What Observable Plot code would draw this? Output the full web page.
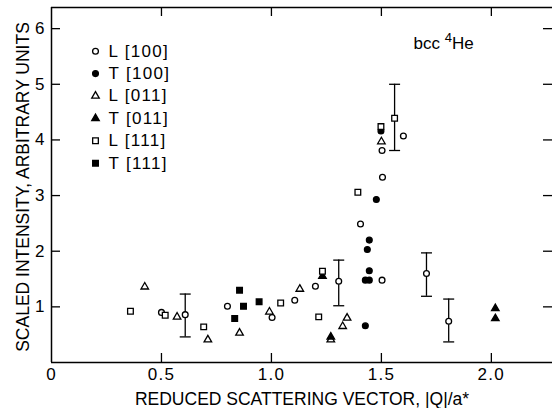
<!DOCTYPE html>
<html>
<head>
<meta charset="utf-8">
<script src="https://cdn.jsdelivr.net/npm/d3@7"></script>
<script src="https://cdn.jsdelivr.net/npm/@observablehq/plot@0.6"></script>
<style>
  html, body { margin: 0; padding: 0; background: #fff; }
  #chart svg { display: block; }
</style>
</head>
<body>
<div id="chart"></div>
<script>
// Scaled one-phonon intensities in bcc 4He versus reduced scattering vector.
// q = |Q|/a*, s = scaled intensity; lo/hi give the error bar where one was measured.
const L100 = [
  {q: 0.500, s: 0.90},
  {q: 0.608, s: 0.86, lo: 0.46, hi: 1.23},
  {q: 0.800, s: 1.01},
  {q: 1.003, s: 0.81},
  {q: 1.106, s: 1.12},
  {q: 1.200, s: 1.37},
  {q: 1.306, s: 1.46, lo: 1.02, hi: 1.84},
  {q: 1.405, s: 2.49},
  {q: 1.503, s: 1.48},
  {q: 1.505, s: 3.33},
  {q: 1.503, s: 3.81},
  {q: 1.600, s: 4.07},
  {q: 1.705, s: 1.60, lo: 1.19, hi: 1.97},
  {q: 1.806, s: 0.74, lo: 0.37, hi: 1.14}
];
const T100 = [
  {q: 1.427, s: 0.66},
  {q: 1.427, s: 1.48},
  {q: 1.445, s: 1.48},
  {q: 1.445, s: 1.65},
  {q: 1.436, s: 2.03},
  {q: 1.445, s: 2.20},
  {q: 1.477, s: 2.93},
  {q: 1.498, s: 4.16}
];
const L011 = [
  {q: 0.424, s: 1.36},
  {q: 0.571, s: 0.82},
  {q: 0.711, s: 0.41},
  {q: 0.855, s: 0.53},
  {q: 0.991, s: 0.91},
  {q: 1.129, s: 1.32},
  {q: 1.270, s: 0.41},
  {q: 1.324, s: 0.65},
  {q: 1.344, s: 0.80},
  {q: 1.500, s: 3.97}
];
const T011 = [
  {q: 1.232, s: 1.55},
  {q: 1.270, s: 0.46},
  {q: 2.018, s: 0.97},
  {q: 2.018, s: 0.79}
];
const L111 = [
  {q: 0.359, s: 0.92},
  {q: 0.517, s: 0.85},
  {q: 0.692, s: 0.64},
  {q: 1.042, s: 1.07},
  {q: 1.215, s: 0.82},
  {q: 1.232, s: 1.64},
  {q: 1.393, s: 3.06},
  {q: 1.498, s: 4.24},
  {q: 1.560, s: 4.39, lo: 3.81, hi: 5.00}
];
const T111 = [
  {q: 0.833, s: 0.79},
  {q: 0.855, s: 1.30},
  {q: 0.873, s: 1.01},
  {q: 0.944, s: 1.09}
];

const xTicks = [0, 0.5, 1.0, 1.5, 2.0];
const xTickLabels = ["0", "0.5", "1.0", "1.5", "2.0"];
const yTicks = [1, 2, 3, 4, 5, 6];
const yTickLabels = ["1", "2", "3", "4", "5", "6"];
const xTitle = "REDUCED SCATTERING VECTOR, |Q|/a*";
const yTitle = "SCALED INTENSITY, ARBITRARY UNITS";
const sampleLabel = "bcc 4He";

// Layout
const W = 552, H = 408;
const margin = {top: 7, right: 0, bottom: 46, left: 51};
const innerW = W - margin.left - margin.right;
const innerH = H - margin.top - margin.bottom;
const xDomain = [0, 2.278];
const yDomain = [0, 6.38];
const tickLen = 9;
const font = "'Liberation Sans', Arial, Helvetica, sans-serif";

const series = [
  {label: "L [100]", data: L100, symbol: "circle",   filled: false, r: 2.9},
  {label: "T [100]", data: T100, symbol: "circle",   filled: true,  r: 2.9},
  {label: "L [011]", data: L011, symbol: "triangle", filled: false, r: 2.8},
  {label: "T [011]", data: T011, symbol: "triangle", filled: true,  r: 2.8},
  {label: "L [111]", data: L111, symbol: "square",   filled: false, r: 3.2},
  {label: "T [111]", data: T111, symbol: "square",   filled: true,  r: 3.2}
];

// horizontal cap drawn at each end of an error bar
const capSymbol = {draw(ctx) { ctx.moveTo(-5.5, 0); ctx.lineTo(5.5, 0); }};

const withErrors = series.flatMap(s => s.data).filter(d => d.lo != null);

const marks = [
  // frame: left, bottom and top edges
  Plot.ruleX([xDomain[0]], {stroke: "black", strokeWidth: 1.5}),
  Plot.ruleY([yDomain[0]], {stroke: "black", strokeWidth: 1.5}),
  Plot.ruleY([yDomain[1]], {stroke: "black", strokeWidth: 1.5}),
  // inward ticks on all four sides
  Plot.ruleX(xTicks.slice(1), {stroke: "black", strokeWidth: 1.3, insetTop: innerH - tickLen}),
  Plot.ruleX(xTicks.slice(1), {stroke: "black", strokeWidth: 1.3, insetBottom: innerH - tickLen}),
  Plot.ruleY(yTicks, {stroke: "black", strokeWidth: 1.3, insetRight: innerW - tickLen}),
  Plot.ruleY(yTicks, {stroke: "black", strokeWidth: 1.3, insetLeft: innerW - tickLen}),
  Plot.axisX({ticks: xTicks, tickSize: 0, tickPadding: 5, label: null,
    tickFormat: (d, i) => xTickLabels[i], fontSize: 17}),
  Plot.axisY({ticks: yTicks, tickSize: 0, tickPadding: 7, label: null,
    tickFormat: (d, i) => yTickLabels[i], fontSize: 17}),
  // error bars
  Plot.ruleX(withErrors, {x: "q", y1: "lo", y2: "hi", stroke: "black", strokeWidth: 1.3}),
  Plot.dot(withErrors, {x: "q", y: "lo", symbol: capSymbol, stroke: "black", strokeWidth: 1.3}),
  Plot.dot(withErrors, {x: "q", y: "hi", symbol: capSymbol, stroke: "black", strokeWidth: 1.3})
];

// data points and the legend entries for each series
series.forEach((s, i) => {
  const style = {symbol: s.symbol, r: s.r, stroke: "black", strokeWidth: 1.3,
    fill: s.filled ? "black" : "white"};
  marks.push(Plot.dot(s.data, {x: "q", y: "s", ...style}));
  const rowDy = 43.7 + 22.4 * i;
  marks.push(Plot.dot([s.label], {frameAnchor: "top-left", dx: 44, dy: rowDy, ...style}));
  marks.push(Plot.text([s.label], {frameAnchor: "top-left", dx: 57, dy: rowDy,
    text: d => d, textAnchor: "start", lineAnchor: "middle", fontSize: 17}));
});

// axis titles and sample label
marks.push(
  Plot.text([xTitle], {frameAnchor: "bottom", dy: 36.5, text: d => d,
    textAnchor: "middle", lineAnchor: "middle", fontSize: 17.5}),
  Plot.text([yTitle], {frameAnchor: "left", dx: -28.6, dy: 2, rotate: -90, text: d => d,
    textAnchor: "middle", lineAnchor: "middle", fontSize: 17.5}),
  Plot.text([sampleLabel], {frameAnchor: "top-right", dx: -139, dy: 35.6, text: d => d,
    textAnchor: "start", lineAnchor: "middle", fontSize: 17})
);

const chart = Plot.plot({
  width: W,
  height: H,
  marginTop: margin.top,
  marginRight: margin.right,
  marginBottom: margin.bottom,
  marginLeft: margin.left,
  x: {domain: xDomain},
  y: {domain: yDomain},
  style: {fontFamily: font, color: "black", background: "white", overflow: "visible"},
  marks
});

// the lettering on tick and legend labels is widely spaced
const spaced = new Set([...xTickLabels, ...series.map(s => s.label)]);
d3.select(chart).selectAll("text")
  .filter(function() { return spaced.has(this.textContent); })
  .style("letter-spacing", "1.3px");

// raise the mass number in "bcc 4He"
d3.select(chart).selectAll("text")
  .filter(function() { return this.textContent === sampleLabel; })
  .each(function() {
    const t = d3.select(this);
    t.text(null);
    t.append("tspan").text("bcc ");
    t.append("tspan").attr("dy", -7).attr("font-size", 13).text("4");
    t.append("tspan").attr("dy", 7).text("He");
  });

document.getElementById("chart").appendChild(chart);
</script>
</body>
</html>
